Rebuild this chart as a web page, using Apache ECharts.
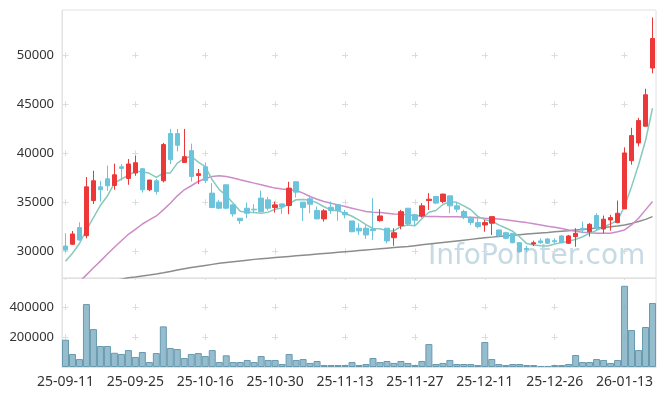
<!DOCTYPE html>
<html>
<head>
<meta charset="utf-8">
<script src="https://cdn.jsdelivr.net/npm/echarts@6/dist/echarts.min.js"></script>
<style>
html,body{margin:0;padding:0;background:#fff;}
#chart{width:665px;height:396px;}
</style>
</head>
<body>
<div id="chart"></div>
<script>
const dates = ['25-09-11','25-09-12','25-09-15','25-09-16','25-09-17','25-09-18','25-09-19','25-09-22','25-09-23','25-09-24',
'25-09-25','25-09-26','25-09-29','25-09-30','25-10-01','25-10-02','25-10-10','25-10-13','25-10-14','25-10-15',
'25-10-16','25-10-17','25-10-20','25-10-21','25-10-22','25-10-23','25-10-24','25-10-27','25-10-28','25-10-29',
'25-10-30','25-10-31','25-11-03','25-11-04','25-11-05','25-11-06','25-11-07','25-11-10','25-11-11','25-11-12',
'25-11-13','25-11-14','25-11-17','25-11-18','25-11-19','25-11-20','25-11-21','25-11-24','25-11-25','25-11-26',
'25-11-27','25-11-28','25-12-01','25-12-02','25-12-03','25-12-04','25-12-05','25-12-08','25-12-09','25-12-10',
'25-12-11','25-12-12','25-12-15','25-12-16','25-12-17','25-12-18','25-12-19','25-12-22','25-12-23','25-12-24',
'25-12-26','25-12-29','25-12-30','26-01-02','26-01-05','26-01-06','26-01-07','26-01-08','26-01-09','26-01-12',
'26-01-13','26-01-14','26-01-15','26-01-16','26-01-19'];

const openValues = [30540,30720,32420,31600,35180,36580,37400,36720,38630,37430,
37990,38430,36280,37200,37200,42010,42010,39070,40270,37740,
38630,35940,35020,36790,34740,33380,34400,34300,35430,35250,
34470,34840,34670,37100,35020,35360,34160,33310,34500,34740,
33950,33100,32360,32360,32280,33130,32360,31390,32620,34400,
33740,33610,35180,35590,35080,35660,34640,34060,33380,32930,
32690,32870,32180,31900,31840,30880,30300,30750,31060,31260,
31085,31570,30820,31500,32360,32000,33650,32280,33200,32930,
34330,39250,41060,42760,48700];

const closeValues = [30130,31770,31160,36580,37200,36280,36690,37810,38460,38910,
39040,36280,37270,36110,40890,39350,40820,39660,37640,37920,
37230,34470,34400,34400,33820,33130,33890,34230,34060,34400,
34740,34570,36450,36040,34470,34810,33310,34130,34160,34160,
33720,32000,32080,31670,32110,33610,31060,31900,34050,32800,
33170,34640,35320,34920,35840,34640,34300,33480,32930,32520,
32930,33540,31570,31330,30880,29960,30200,30880,30880,30820,
30980,30880,31570,31840,32180,32760,32360,33280,33440,33890,
40040,41810,43340,45970,51710];

const lowValues = [29960,30650,31085,31330,34840,35080,36180,36280,37230,36790,
37710,36000,36140,35800,37030,38910,40200,39010,37130,36860,
36960,34400,34300,34300,33540,32800,33380,33890,33990,34160,
33950,33820,33790,35490,33100,33890,33280,33030,33820,33130,
33380,31950,31670,31260,31160,33030,30820,30570,32250,32620,
32620,33440,34230,34810,34920,33890,33990,33280,32690,32360,
32000,31670,31500,31230,30820,29860,29930,30540,30750,30750,
30820,30820,30750,30470,31840,31500,32180,31840,32110,32870,
34330,38840,40710,42760,48160];

const highValues = [31840,32080,32970,37580,38220,37200,38740,38940,38910,39420,
39760,38500,37300,37400,41060,42490,42490,42490,40990,38400,
39070,36960,35250,36790,34800,33400,34980,34810,36200,35530,
35080,34900,37100,37100,35020,35690,34570,34300,35080,34800,
34230,33100,32870,32690,35430,34300,32360,32360,34230,34400,
33840,34920,35940,35660,35870,35660,34980,34230,33540,33380,
33200,33610,32180,32000,31840,30880,30540,31090,31330,31330,
31330,31670,31670,32360,33030,32870,33890,33650,33720,35180,
40610,42600,43620,46590,53860];

const ma5Values = [29000,29800,30800,32180,33450,34700,35650,36950,37380,37750,
38170,38120,37960,37550,37980,38000,39000,39480,39700,39100,
38650,37300,36300,35700,34900,34100,33980,33950,33880,34000,
34300,34450,34870,35260,35280,35200,34950,34550,34200,34130,
33880,33580,33180,32720,32330,32300,32100,32080,32540,32680,
32600,33320,33990,34170,34780,35070,35000,34640,34240,33570,
33230,33080,32700,32380,32050,31460,30790,30650,30560,30550,
30750,30890,31030,31220,31490,31850,32140,32480,32800,33150,
34600,36600,38800,41300,44600];

const ma20Values = [25800,26300,26900,27600,28320,29000,29720,30410,31080,31740,
32250,32790,33200,33610,34230,34910,35660,36280,36690,37130,
37430,37640,37720,37640,37480,37300,37130,36960,36790,36620,
36450,36350,36280,36200,35940,35590,35320,35080,34910,34740,
34570,34400,34230,34060,33990,33950,33890,33820,33790,33720,
33650,33580,33560,33550,33540,33540,33540,33510,33480,33430,
33380,33340,33310,33220,33130,33030,32930,32810,32690,32570,
32460,32320,32180,32060,31950,31890,31840,31840,31840,32000,
32180,32690,33380,34230,35080];

const ma60Values = [26180,26300,26420,26540,26660,26780,26900,27020,27150,27300,
27390,27490,27580,27680,27810,27950,28100,28220,28340,28450,
28560,28670,28780,28860,28940,29020,29100,29180,29240,29300,
29360,29420,29480,29540,29600,29660,29720,29780,29840,29900,
29960,30020,30080,30140,30200,30260,30320,30380,30440,30500,
30580,30660,30740,30820,30900,30980,31060,31140,31220,31300,
31380,31450,31520,31580,31640,31700,31760,31820,31880,31930,
31990,32050,32110,32180,32240,32300,32370,32440,32510,32590,
32690,32850,33040,33260,33540];

const volumeValues = [182000,87000,53000,420000,253000,140000,140000,95000,87000,113000,
67000,100000,33000,93000,271000,127000,120000,60000,87000,93000,
73000,113000,33000,78000,33000,33000,47000,33000,73000,47000,
47000,20000,87000,47000,53000,27000,40000,13000,13000,13000,
13000,33000,13000,20000,60000,33000,40000,27000,40000,27000,
13000,40000,153000,20000,27000,47000,20000,20000,20000,13000,
167000,53000,20000,13000,20000,20000,13000,13000,7000,7000,
13000,13000,20000,80000,33000,33000,53000,47000,27000,47000,
542000,247000,113000,267000,427000];

const watermarkText = 'InfoPointer.com';

const candleData = dates.map((d, i) => [openValues[i], closeValues[i], lowValues[i], highValues[i]]);

const chart = echarts.init(document.getElementById('chart'), null, {renderer: 'canvas'});
const gridLine = '#e2e2e2';
const crossColor = '#dcdcdc';
const labelFont = 'Noto Sans';
const plain = v => String(v);

const option = {
  animation: false,
  backgroundColor: '#ffffff',
  grid: [
    {left: 62, right: 9, top: 10, height: 268, show: true, borderColor: gridLine, borderWidth: 1},
    {left: 62, right: 9, top: 278, height: 89, show: true, borderColor: gridLine, borderWidth: 1}
  ],
  graphic: [{
    type: 'text',
    left: 428,
    top: 243,
    z: 0,
    style: {
      text: watermarkText,
      fontSize: 28,
      fontFamily: 'DejaVu Sans',
      fill: '#c6dae4'
    }
  }],
  xAxis: [
    {
      type: 'category', gridIndex: 0, data: dates, boundaryGap: true,
      axisLine: {show: true, lineStyle: {color: gridLine}},
      axisTick: {show: false},
      axisLabel: {show: false},
      splitLine: {show: true, interval: 9, alignWithLabel: true,
        lineStyle: {color: crossColor, width: 1, type: [6, 43.01], dashOffset: 6.71}}
    },
    {
      type: 'category', gridIndex: 1, data: dates, boundaryGap: true,
      axisLine: {show: true, lineStyle: {color: gridLine}},
      axisTick: {show: false},
      axisLabel: {show: true, interval: 9, color: '#333', fontSize: 14, fontFamily: labelFont, margin: 8},
      splitLine: {show: true, interval: 9, alignWithLabel: true,
        lineStyle: {color: crossColor, width: 1, type: [6, 23.97], dashOffset: 3.87}}
    }
  ],
  yAxis: [
    {
      type: 'value', gridIndex: 0, min: 27280, max: 54620,
      axisLine: {show: true, lineStyle: {color: gridLine}},
      axisTick: {show: false},
      axisLabel: {color: '#333', fontSize: 13, fontFamily: labelFont, margin: 8, showMinLabel: false, showMaxLabel: false, formatter: plain},
      splitLine: {show: true, showMinLine: false, showMaxLine: false,
        lineStyle: {color: crossColor, width: 1, type: [6, 63.88], dashOffset: 69.39}}
    },
    {
      type: 'value', gridIndex: 1, min: 0, max: 594000, interval: 200000,
      axisLine: {show: true, lineStyle: {color: gridLine}},
      axisTick: {show: false},
      axisLabel: {color: '#333', fontSize: 13, fontFamily: labelFont, margin: 8, showMinLabel: false, showMaxLabel: false, formatter: plain},
      splitLine: {show: true, showMinLine: false, showMaxLine: false,
        lineStyle: {color: crossColor, width: 1, type: [6, 63.88], dashOffset: 69.39}}
    }
  ],
  series: [
    {
      name: 'MA60', type: 'line', xAxisIndex: 0, yAxisIndex: 0, data: ma60Values,
      symbol: 'none', smooth: false, clip: true, z: 3,
      lineStyle: {color: '#8c8c8c', width: 1.5}
    },
    {
      name: 'MA20', type: 'line', xAxisIndex: 0, yAxisIndex: 0, data: ma20Values,
      symbol: 'none', smooth: false, clip: true, z: 3,
      lineStyle: {color: '#cc8cc8', width: 1.5}
    },
    {
      name: 'MA5', type: 'line', xAxisIndex: 0, yAxisIndex: 0, data: ma5Values,
      symbol: 'none', smooth: false, clip: true, z: 3,
      lineStyle: {color: '#86c9be', width: 1.5}
    },
    {
      name: 'price', type: 'candlestick', xAxisIndex: 0, yAxisIndex: 0, data: candleData,
      barWidth: 5, z: 4,
      itemStyle: {color: '#ec3838', color0: '#6cc4dc', borderColor: '#ec3838', borderColor0: '#6cc4dc', borderWidth: 1}
    },
    {
      name: 'volume', type: 'bar', xAxisIndex: 1, yAxisIndex: 1, data: volumeValues,
      barCategoryGap: '0%',
      itemStyle: {color: 'rgba(132,178,198,0.85)', borderColor: '#6799af', borderWidth: 1}
    }
  ]
};
chart.setOption(option);
</script>
</body>
</html>
